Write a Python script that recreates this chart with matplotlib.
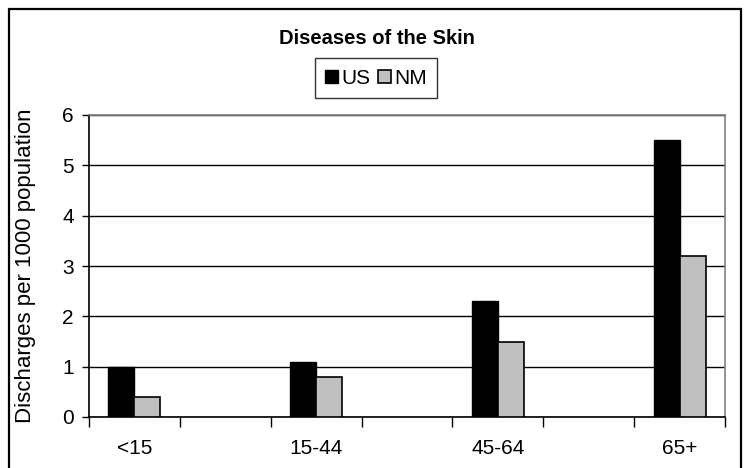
import numpy as np
import matplotlib
matplotlib.use("Agg")
import matplotlib.pyplot as plt
from matplotlib.patches import Rectangle

plt.rcParams['font.family'] = ['Liberation Sans', 'DejaVu Sans']

title = "Diseases of the Skin"
ylabel = "Discharges per 1000 population"
categories = ['<15', '', '15-44', '', '45-64', '', '65+']
us_values = [1.0, np.nan, 1.1, np.nan, 2.3, np.nan, 5.5]
nm_values = [0.4, np.nan, 0.8, np.nan, 1.5, np.nan, 3.2]
series_names = ['US', 'NM']
yticks = [0, 1, 2, 3, 4, 5, 6]

W, H = 747, 468
fig = plt.figure(figsize=(W / 100, H / 100), dpi=100)
L, R, T, B = 89, 725, 115, 417
ax = fig.add_axes([L / W, 1 - B / H, (R - L) / W, (B - T) / H])

x = np.arange(len(categories))
bw = 1 / 3.5
ax.bar(x - bw / 2, us_values, bw, color='black', edgecolor='black', linewidth=1, label=series_names[0], zorder=3)
ax.bar(x + bw / 2, nm_values, bw, color='#c0c0c0', edgecolor='black', linewidth=1.2, label=series_names[1], zorder=3)

ax.set_xlim(-0.5, len(categories) - 0.5)
ax.set_ylim(0, 6)
ax.set_yticks(yticks)
ax.set_yticklabels([str(v) for v in yticks])
ax.yaxis.grid(True, color='black', linewidth=1, zorder=1)
ax.set_axisbelow(True)

ax.set_xticks(x)
ax.set_xticklabels(categories)
ax.set_xticks(np.arange(-0.5, len(categories)), minor=True)
ax.tick_params(axis='x', which='major', length=0, pad=16, labelsize=15)
ax.tick_params(axis='x', which='minor', length=7, width=1, color='black', direction='out')
ax.tick_params(axis='y', length=5, width=1, pad=6, labelsize=15, direction='out')

for s in ['left', 'bottom']:
    ax.spines[s].set_color('black')
    ax.spines[s].set_linewidth(1.2)
for s in ['top', 'right']:
    ax.spines[s].set_color('#808080')
    ax.spines[s].set_linewidth(1.2)

ax.set_ylabel(ylabel, fontsize=16)
ax.yaxis.set_label_coords(-0.083, 0.5)

fig.text(0.505, 1 - 38 / H, title, ha='center', va='center', fontsize=14.5, fontweight='bold')

leg = fig.legend(loc='center', bbox_to_anchor=(376 / W, 1 - 78 / H), ncol=2, fontsize=15,
                 handlelength=0.6, handleheight=0.6, handletextpad=0.15, columnspacing=0.4,
                 borderpad=0.5, fancybox=False, frameon=True, borderaxespad=0)
leg.get_frame().set_edgecolor('black')
leg.get_frame().set_linewidth(1)

fig.patches.append(Rectangle((9 / W, -0.1), (741 - 9) / W, 1.1 - 9 / H, transform=fig.transFigure,
                             fill=False, edgecolor='black', linewidth=1.6))

fig.savefig('out.png', dpi=100)
